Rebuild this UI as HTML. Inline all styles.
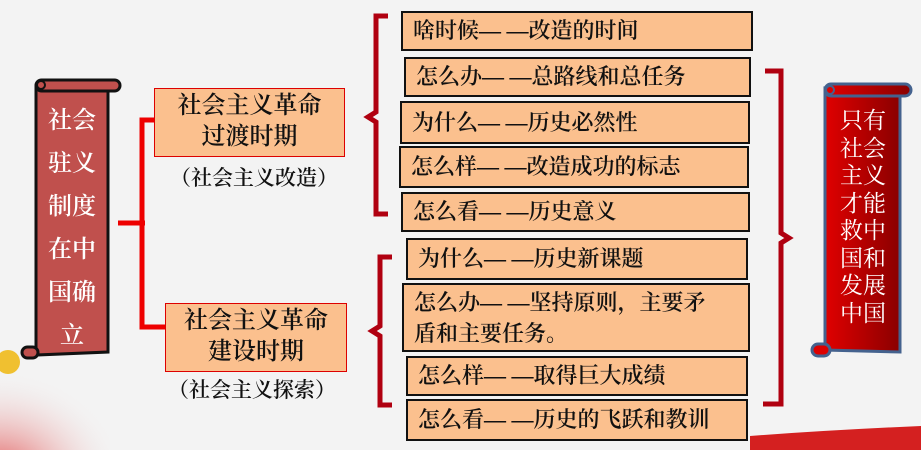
<!DOCTYPE html>
<html><head><meta charset="utf-8"><style>
html,body{margin:0;width:921px;height:450px;overflow:hidden;}
body{background:#f3f3f3;position:relative;font-family:"Liberation Serif","Noto Serif CJK SC",serif;font-weight:600;}
.b{position:absolute;background:#fbc08e;border:2px solid #111;box-sizing:border-box;font-size:22px;color:#111;padding-left:10px;display:flex;align-items:center;line-height:30px;white-space:nowrap;overflow:hidden}
.p{position:absolute;background:#fbc08e;border:1.5px solid #d00;box-sizing:border-box;font-size:24px;text-align:center;line-height:31px;padding-top:2px;color:#111;white-space:nowrap}
.t{position:absolute;font-size:21px;color:#111;white-space:nowrap}
svg{position:absolute;left:0;top:0}
</style></head><body>
<svg width="921" height="450">
<defs><linearGradient id="g" x1="0" x2="1"><stop offset="0" stop-color="#e00000"/><stop offset="1" stop-color="#8a0000"/></linearGradient>
<radialGradient id="fl" cx="0.3" cy="0.8" r="0.8"><stop offset="0" stop-color="#e04040"/><stop offset="1" stop-color="#f3f3f3" stop-opacity="0"/></radialGradient></defs>
<ellipse cx="30" cy="440" rx="80" ry="70" fill="url(#fl)"/>
<circle cx="8" cy="362" r="12" fill="#f0c030"/>
<path d="M750 436 Q830 430 921 426 L921 450 L750 450 Z" fill="#d42020"/>
<path d="M36 86 L36 355 L108 352 L108 90 Z" fill="#c0504d" stroke="#111" stroke-width="3"/>
<rect x="36" y="80" width="84" height="11" rx="5.5" fill="#c0504d" stroke="#111" stroke-width="3"/>
<circle cx="41" cy="85" r="4" fill="none" stroke="#111" stroke-width="2"/>
<rect x="22" y="347" width="16" height="11" rx="5.5" fill="#c0504d" stroke="#111" stroke-width="3"/>
<path d="M118 223 H145 M154 120 H142 V327 H165" fill="none" stroke="#ee0000" stroke-width="5"/>
<path d="M388 16 H376 V112 L368 117 L376 122 V214 H388" fill="none" stroke="#b00010" stroke-width="5"/>
<path d="M392 257 H380 V326 L372 331 L380 336 V405 H392" fill="none" stroke="#b00010" stroke-width="5"/>
<path d="M765 71 H781 V233 L789 238 L781 243 V404 H763" fill="none" stroke="#b00010" stroke-width="5"/>
<path d="M825 88 L825 350 L900 352 L900 95 Z" fill="url(#g)" stroke="#44628e" stroke-width="3"/>
<rect x="825" y="84" width="86" height="12" rx="6" fill="url(#g)" stroke="#44628e" stroke-width="3"/>
<circle cx="830" cy="90" r="4" fill="none" stroke="#44628e" stroke-width="2"/>
<rect x="812" y="344" width="18" height="12" rx="6" fill="#d00" stroke="#44628e" stroke-width="3"/>
</svg>
<div class="t" style="left:46px;top:100px;color:#fff;font-size:24px;line-height:43px;width:52px;white-space:normal;text-align:center">社会驻义制度在中国确立</div>
<div class="t" style="left:838px;top:107px;color:#fff;font-size:23px;line-height:27.5px;width:50px;white-space:normal;text-align:center;font-weight:400">只有社会主义才能救中国和发展中国</div>
<div class="p" style="left:154px;top:88px;width:191px;height:69px">社会主义革命<br>过渡时期</div>
<div class="t" style="left:170px;top:162px">（社会主义改造）</div>
<div class="p" style="left:165px;top:303px;width:182px;height:69px">社会主义革命<br>建设时期</div>
<div class="t" style="left:168px;top:374px">（社会主义探索）</div>
<div class="b" style="left:401px;top:11px;width:352px;height:40px">啥时候— —改造的时间</div>
<div class="b" style="left:404px;top:57px;width:347px;height:40px">怎么办— —总路线和总任务</div>
<div class="b" style="left:400px;top:101px;width:350px;height:43px">为什么— —历史必然性</div>
<div class="b" style="left:399px;top:146px;width:350px;height:42px">怎么样— —改造成功的标志</div>
<div class="b" style="left:401px;top:192px;width:349px;height:40px">怎么看— —历史意义</div>
<div class="b" style="left:406px;top:238px;width:342px;height:42px">为什么— —历史新课题</div>
<div class="b" style="left:402px;top:283px;width:348px;height:69px;line-height:31px">怎么办— —坚持原则，主要矛<br>盾和主要任务。</div>
<div class="b" style="left:406px;top:356px;width:342px;height:40px">怎么样— —取得巨大成绩</div>
<div class="b" style="left:406px;top:399px;width:342px;height:42px">怎么看— —历史的飞跃和教训</div>
</body></html>
